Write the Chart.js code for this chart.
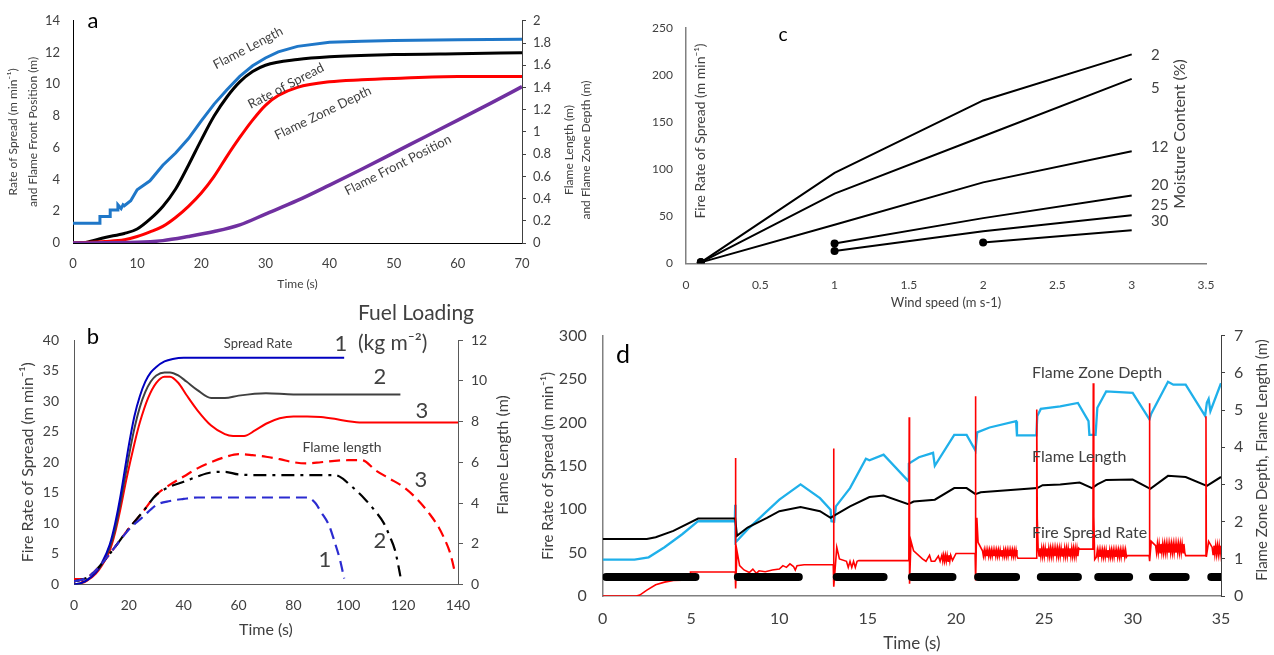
<!DOCTYPE html>
<html><head><meta charset="utf-8">
<script src="https://cdn.jsdelivr.net/npm/chart.js@4.4.1/dist/chart.umd.min.js"></script>
<style>
html,body{margin:0;padding:0;background:#fff;width:1274px;height:655px;overflow:hidden;position:relative}
canvas{position:absolute}
</style></head><body>
<canvas id="ca" width="600" height="300" style="left:0;top:0"></canvas>
<canvas id="cb" width="530" height="355" style="left:0;top:300px"></canvas>
<canvas id="cc" width="674" height="320" style="left:600px;top:0"></canvas>
<canvas id="cd" width="744" height="345" style="left:530px;top:310px"></canvas>
<script>
// ---------- Panel a: [time s, value] ----------
const aFlameLength = [[0,0.177],[4.2,0.177],[4.2,0.239],[5.8,0.239],[5.8,0.297],[7,0.297],[7,0.344],[7.5,0.31],[7.8,0.344],[8,0.335],[9,0.38],[10,0.48],[12,0.56],[14,0.70],[16,0.81],[18,0.94],[20,1.10],[22,1.25],[24,1.38],[26,1.50],[28,1.595],[30,1.665],[32,1.72],[35,1.77],[40,1.806],[45,1.817],[50,1.823],[60,1.829],[70,1.834]];
const aRateOfSpread = [[0,0],[2,0.04],[5,0.35],[8,0.6],[10,0.88],[12,1.5],[14,2.3],[16,3.4],[18,4.9],[20,6.5],[22,8.0],[24,9.2],[26,10.15],[28,10.8],[30,11.2],[35,11.56],[40,11.73],[50,11.87],[60,11.93],[70,11.98]];
const aFlameZoneDepth = [[0,0],[5,0.014],[8,0.029],[10,0.058],[12,0.1],[14,0.15],[16,0.23],[18,0.33],[20,0.45],[22,0.6],[24,0.78],[26,0.95],[28,1.106],[30,1.239],[32,1.327],[35,1.401],[40,1.451],[45,1.469],[50,1.481],[60,1.499],[70,1.499]];
const aFlameFrontPosition = [[0,0],[10,0.04],[14,0.15],[18,0.41],[22,0.72],[26,1.14],[30,1.82],[35,2.68],[40,3.65],[45,4.65],[50,5.68],[55,6.71],[60,7.74],[65,8.78],[70,9.85]];
const aXTicks = {min:0,max:70,step:10}, aYTicks = {min:0,max:14,step:2}, aY2Ticks = {min:0,max:2,step:0.2};

// ---------- Panel b ----------
const bSpread1 = [[0,0],[3,0.3],[5,0.8],[8,2],[10,3.4],[13,6.5],[15,10],[17,14.6],[20,22.8],[22,27.5],[24,30.8],[26,33.2],[28,34.7],[30,35.6],[33,36.5],[36,36.9],[40,37.1],[60,37.1],[80,37.1],[98.5,37.1]];
const bSpread2 = [[0,0],[3,0.3],[5,0.8],[8,2],[10,3.2],[13,6],[15,9],[17,13.5],[20,21],[22,25.5],[24,29],[26,31.5],[28,33.2],[30,34.2],[33,34.7],[35,34.7],[38,34.2],[41,33.2],[45,31.8],[50,30.5],[55,30.5],[60,30.9],[70,31.3],[80,31.1],[90,31.1],[100,31.1],[110,31.1],[119,31.1]];
const bSpread3 = [[0,0.9],[3,0.9],[3,0.3],[5,0.7],[8,1.8],[10,3],[13,5.5],[15,8.5],[17,12.5],[19,17],[22,23],[24,26.5],[27,30.5],[30,33],[33,34],[35,34],[38,33],[41,31],[45,28.5],[50,26],[55,24.6],[58,24.3],[62,24.3],[66,25.2],[70,26.3],[75,27.2],[80,27.5],[85,27.5],[90,27.4],[95,27.1],[100,26.7],[105,26.5],[120,26.5],[140,26.5]];
const bFlame1 = [[0,0.15],[5,0.35],[10,1.0],[15,1.85],[20,2.7],[25,3.3],[30,3.9],[35,4.1],[40,4.2],[45,4.27],[60,4.27],[70,4.27],[85,4.27],[88,4.0],[90,3.57],[93,2.9],[95,2.1],[97,1.2],[98,0.6],[98.5,0.3]];
const bFlame2 = [[0,0.15],[5,0.35],[10,1.0],[15,1.85],[20,2.75],[25,3.55],[30,4.4],[35,4.8],[40,5.04],[45,5.3],[50,5.5],[55,5.53],[60,5.4],[70,5.37],[80,5.37],[90,5.37],[95,5.37],[98,5.2],[100,4.96],[103,4.6],[106,4.2],[110,3.57],[113,3.0],[115,2.4],[117,1.7],[118,1.1],[119,0.4]];
const bFlame3 = [[0,0.15],[5,0.35],[10,1.0],[15,1.85],[20,2.75],[25,3.55],[30,4.4],[35,4.9],[40,5.3],[45,5.7],[50,6.0],[55,6.25],[60,6.4],[65,6.35],[70,6.27],[75,6.15],[80,6.0],[85,5.94],[90,6.0],[95,6.07],[100,6.1],[105,6.1],[110,5.6],[115,5.2],[120,4.8],[125,4.2],[130,3.4],[133,2.8],[135,2.26],[137,1.6],[138,1.1],[139,0.5]];
const bXTicks = {min:0,max:140,step:20}, bYTicks = {min:0,max:40,step:5}, bY2Ticks = {min:0,max:12,step:2};

// ---------- Panel c ----------
const cWind = [0.1,1,2,3];
const cMC2 = [1,96,173,222];
const cMC5 = [1,74,135,196];
const cMC12 = [1,41,86,119];
const cWind20 = [1,2,3], cMC20 = [21,48,72];
const cWind25 = [1,2,3], cMC25 = [13,34,51];
const cWind30 = [2,3], cMC30 = [22,35];
const cMoistureLabels = ['2','5','12','20','25','30'];
const cXTicks = {min:0,max:3.5,step:0.5}, cYTicks = {min:0,max:250,step:50};

// ---------- Panel d ----------
const dFlameZoneDepth = [[0,0.98],[1.8,0.98],[2.6,1.04],[3.5,1.31],[4.5,1.66],[5.4,2.01],[7.48,2.01],[7.5,2.45],[7.52,1.44],[8.2,1.79],[9.3,2.28],[10,2.59],[11.2,3.0],[12.3,2.63],[12.9,2.32],[12.95,2.01],[13.1,2.0],[13.2,2.41],[14,2.9],[14.9,3.69],[15.1,3.65],[15.9,3.8],[17.3,3.09],[17.33,3.56],[17.9,3.73],[18.7,3.85],[18.8,3.5],[19.9,4.33],[20.6,4.33],[21.1,3.91],[21.2,4.4],[21.9,4.53],[23.4,4.7],[23.45,4.32],[24.55,4.32],[24.6,4.84],[24.8,5.03],[25.9,5.1],[26.9,5.19],[27.5,4.7],[27.55,4.33],[27.9,4.33],[28,5.06],[28.5,5.5],[30,5.46],[30.95,4.75],[31.05,4.9],[32,5.76],[32.3,5.68],[33,5.68],[34.1,4.84],[34.2,5.2],[34.3,5.3],[34.4,4.97],[35,5.72]];
const dFlameLength = [[0,1.53],[2.5,1.53],[3,1.58],[4,1.75],[5.4,2.08],[7.5,2.08],[7.6,1.62],[8.2,1.84],[9.3,2.1],[10,2.28],[11.2,2.39],[12.3,2.28],[12.9,2.1],[13.1,2.16],[14,2.41],[15.1,2.66],[15.9,2.7],[17.3,2.47],[17.6,2.54],[18.8,2.59],[19.9,2.9],[20.6,2.9],[21.1,2.74],[21.4,2.79],[24.6,2.9],[24.9,2.98],[25.9,3.0],[27,3.05],[27.7,2.9],[28,3.0],[28.5,3.12],[30,3.13],[31,2.88],[32,3.23],[33,3.2],[34.2,2.96],[35,3.2]];
// Fire spread rate: measured pieces [time, value] and dense oscillating bands (values every 0.05 s from start)
const dRate1 = [[0,0],[1.9,0],[2.1,1],[2.5,6.8],[3,13],[3.5,16],[4,18],[4.97,18.5],[4.97,27.6],[7.5,27.6],[7.52,159],[7.53,8.7],[7.6,52],[7.75,35],[8,30],[8.3,27],[8.5,31],[8.7,26],[8.85,29],[9.2,28],[9.6,30],[10,31],[10.2,35],[10.4,33],[10.6,37],[10.8,34],[10.9,30],[11,35],[11.4,36],[13.05,36],[13.07,170],[13.09,10.6],[13.25,56],[13.4,42.7],[13.8,40],[13.9,33],[14,40],[14.1,33],[14.2,40],[14.3,33],[14.4,40],[14.5,40.8],[17.33,40.8],[17.35,206],[17.37,14],[17.45,63.5],[17.6,52],[18.1,42.7],[18.3,40],[18.5,47],[18.6,40],[18.8,40],[19,46],[19.1,40],[19.2,47],[19.25,40],[19.3,47],[19.35,40],[19.4,47],[19.45,40],[19.5,47],[19.55,40],[19.6,47],[19.65,40],[19.7,47],[19.8,41],[20,49],[21.08,49],[21.1,230],[21.12,18],[21.18,90],[21.25,61.7],[21.5,52]];
const dBand1 = {start:21.55, v:[46,53,46,53,46,53,46,53,46,53,46,53,46,53,46,53,46,53,46,53,46,53,46,53,46,53,46,53,46,53,46,53,46,53,46,53,46,53,46]};
const dRate2 = [[23.5,43.5],[24.55,43.5],[24.57,215],[24.6,90],[24.65,54]];
const dBand2 = {start:24.7, v:[46,55,46,55,46,55,46,55,46,55,46,55,46,55,46,55,46,55,46,55,46,55,46,55,46,55,46,55,46,55,46,55,46,55,46,55,46,55,46,55,46,55,46,55,46,55]};
const dRate3 = [[27,54],[27.75,54],[27.77,245],[27.8,92],[27.85,42]];
const dBand3 = {start:27.95, v:[45,53,45,53,45,53,45,53,45,53,45,53,45,53,45,53,45,53,45,53,45,53,45,53,45,53,45,53,45,53,45,53,45,53,45]};
const dRate4 = [[29.7,46.5],[30.93,46.5],[30.95,222],[30.97,40],[31.05,63],[31.3,58]];
const dBand4 = {start:31.35, v:[50,60,50,60,50,60,50,60,50,60,50,60,50,60,50,60,50,60,50,60,50,60,50,60,50,60,50,60,50,60,50,60,50]};
const dRate5 = [[33,46.5],[34.13,46.5],[34.15,207],[34.17,45],[34.3,63],[34.5,56]];
const dBand5 = {start:34.55, v:[48,58,48,58,48,58,48,58,48,58]};
const dBandStep = 0.05;
const dFrontSegStart = [0.2,7.65,13.25,17.5,21.25,24.8,28.05,31.15,34.45];
const dFrontSegEnd   = [5.25,11.1,15.9,19.8,23.4,26.9,29.8,33.0,35];
const dFrontLevel = 22;
const dXTicks = {min:0,max:35,step:5}, dYTicks = {min:0,max:300,step:50}, dY2Ticks = {min:0,max:7,step:1};

// ---------- helpers ----------
const FONT = "Lato, 'DejaVu Sans', sans-serif";
const pairs = arr => arr.map(p => ({x:p[0], y:p[1]}));
const xy = (xs, ys) => xs.map((x,i) => ({x, y:ys[i]}));
const band = b => b.v.map((v,i) => ({x:+(b.start + i*dBandStep).toFixed(3), y:v}));
const fmt = v => String(Math.round(v*100)/100);
const labels = items => ({
  id:'freeLabels',
  afterDraw(chart){
    const ctx = chart.ctx;
    items.forEach(it => {
      ctx.save();
      ctx.translate(it.x, it.y);
      if (it.rot) ctx.rotate(it.rot*Math.PI/180);
      ctx.font = (it.weight||'normal')+' '+it.size+'px '+FONT;
      ctx.fillStyle = it.color || '#404040';
      ctx.textAlign = it.align || 'center';
      ctx.textBaseline = 'middle';
      ctx.fillText(it.text, 0, 0);
      ctx.restore();
    });
  }
});
const base = pad => ({
  responsive:false, animation:false, maintainAspectRatio:false,
  layout:{autoPadding:false, padding:pad},
  plugins:{legend:{display:false}, tooltip:{enabled:false}},
  elements:{point:{radius:0}, line:{tension:0}}
});
function axis(o){
  return {
    type:'linear', position:o.pos, min:o.t.min, max:o.t.max,
    ticks:{stepSize:o.t.step, color:o.tc||'#404040', padding:o.tp, font:{family:FONT,size:o.ts}, callback:fmt},
    grid:{display:true, drawOnChartArea:false, drawTicks:!!o.tl, tickLength:o.tl||0, color:o.bc},
    border:{display:true, color:o.bc, width:o.bw||1},
    title: o.title ? {display:true, text:o.title, color:o.tcol||'#404040', font:{family:FONT,size:o.tsz,lineHeight:o.lh||1.2}, padding:o.tpad} : {display:false},
    afterFit: s => { if (o.w!==undefined) s.width=o.w; if (o.h!==undefined) s.height=o.h; }
  };
}

// ---------- Panel a ----------
new Chart(document.getElementById('ca'), {
  type:'line',
  data:{datasets:[
    {data:pairs(aFlameFrontPosition), yAxisID:'y', borderColor:'#7030A0', borderWidth:3.5, cubicInterpolationMode:'monotone'},
    {data:pairs(aFlameZoneDepth), yAxisID:'y2', borderColor:'#FF0000', borderWidth:3, cubicInterpolationMode:'monotone'},
    {data:pairs(aRateOfSpread), yAxisID:'y', borderColor:'#000000', borderWidth:3, cubicInterpolationMode:'monotone'},
    {data:pairs(aFlameLength), yAxisID:'y2', borderColor:'#1F77C8', borderWidth:3}
  ]},
  options:Object.assign(base({top:17,left:0,right:0,bottom:0}), {scales:{
    x:axis({pos:'bottom', t:aXTicks, ts:13, tp:13, bc:'#000', title:'Time (s)', tsz:12, tpad:{top:0,bottom:9}, h:57}),
    y:axis({pos:'left', t:aYTicks, ts:13, tp:13, bc:'#000', title:['Rate of Spread (m min⁻¹)','and Flame Front Position (m)'], tsz:12, lh:1.667, tpad:{top:3,bottom:0}, w:73}),
    y2:axis({pos:'right', t:aY2Ticks, ts:13, tp:7, tl:4, bc:'#404040', w:78})
  }}),
  plugins:[labels([
    {text:'a', x:93, y:21, size:22, color:'#000'},
    {text:'Flame Length', x:248, y:48, rot:-27.5, size:13},
    {text:'Rate of Spread', x:286, y:86, rot:-27.5, size:13},
    {text:'Flame Zone Depth', x:323, y:113, rot:-26, size:13},
    {text:'Flame Front Position', x:398, y:165, rot:-27, size:13},
    {text:'Flame Length (m)', x:569, y:150, rot:-90, size:12},
    {text:'and Flame Zone Depth (m)', x:586, y:150, rot:-90, size:12}
  ])]
});

// ---------- Panel b ----------
new Chart(document.getElementById('cb'), {
  type:'line',
  data:{datasets:[
    {data:pairs(bFlame1), yAxisID:'y2', borderColor:'#2B2BD0', borderWidth:2.2, borderDash:[11,6], cubicInterpolationMode:'monotone'},
    {data:pairs(bFlame2), yAxisID:'y2', borderColor:'#000000', borderWidth:2.2, borderDash:[13,6,3,6], cubicInterpolationMode:'monotone'},
    {data:pairs(bFlame3), yAxisID:'y2', borderColor:'#FF0000', borderWidth:2.2, borderDash:[11,6], cubicInterpolationMode:'monotone'},
    {data:pairs(bSpread1), yAxisID:'y', borderColor:'#0000C0', borderWidth:2, cubicInterpolationMode:'monotone'},
    {data:pairs(bSpread2), yAxisID:'y', borderColor:'#404040', borderWidth:2, cubicInterpolationMode:'monotone'},
    {data:pairs(bSpread3), yAxisID:'y', borderColor:'#FF0000', borderWidth:2, cubicInterpolationMode:'monotone'}
  ]},
  options:Object.assign(base({top:40,left:0,right:0,bottom:0}), {scales:{
    x:axis({pos:'bottom', t:bXTicks, ts:14, tp:13, bc:'#595959', title:'Time (s)', tsz:16, tpad:{top:0,bottom:16}, h:70.5}),
    y:axis({pos:'left', t:bYTicks, ts:14, tp:15, bc:'#595959', title:'Fire Rate of Spread (m min⁻¹)', tsz:16, tpad:{top:18.7,bottom:0}, w:74}),
    y2:axis({pos:'right', t:bY2Ticks, ts:14, tp:8, tl:5, bc:'#595959', w:72})
  }}),
  plugins:[labels([
    {text:'b', x:93, y:37, size:22, color:'#000'},
    {text:'Fuel Loading', x:358, y:13, size:21, align:'left', color:'#404040'},
    {text:'(kg m⁻²)', x:358, y:43, size:21, align:'left', color:'#404040'},
    {text:'Spread Rate', x:258, y:44, size:13},
    {text:'1', x:341, y:44, size:22},
    {text:'2', x:380, y:77, size:22},
    {text:'3', x:422, y:111, size:22},
    {text:'Flame length', x:342, y:147, size:14},
    {text:'3', x:421, y:180, size:22},
    {text:'2', x:380, y:241, size:22},
    {text:'1', x:325, y:260, size:22},
    {text:'Flame Length (m)', x:503, y:155, rot:-90, size:16}
  ])]
});

// ---------- Panel c ----------
const cPointR = ctx => ctx.dataIndex===0 ? 4 : 0;
new Chart(document.getElementById('cc'), {
  type:'line',
  data:{datasets:[
    {data:xy(cWind,cMC2)}, {data:xy(cWind,cMC5)}, {data:xy(cWind,cMC12)},
    {data:xy(cWind20,cMC20)}, {data:xy(cWind25,cMC25)}, {data:xy(cWind30,cMC30)}
  ].map(d => Object.assign(d, {borderColor:'#000', borderWidth:2, pointRadius:cPointR, pointBackgroundColor:'#000', pointBorderWidth:0}))},
  options:Object.assign(base({top:28,left:0,right:68,bottom:0}), {scales:{
    x:axis({pos:'bottom', t:cXTicks, ts:12, tp:15, bc:'#808080', bw:1.5, title:'Wind speed (m s-1)', tsz:13, tpad:{top:0,bottom:9}, h:56.7}),
    y:axis({pos:'left', t:cYTicks, ts:12, tp:13, bc:'#808080', bw:1.5, w:86})
  }}),
  plugins:[labels([
    {text:'c', x:183, y:35, size:19, color:'#000'},
    {text:'Fire Rate of Spread (m min⁻¹)', x:100, y:131, rot:-90, size:14},
    {text:'Moisture Content (%)', x:580, y:134, rot:-90, size:16},
    {text:cMoistureLabels[0], x:551, y:55, size:15, align:'left'},
    {text:cMoistureLabels[1], x:551, y:88, size:15, align:'left'},
    {text:cMoistureLabels[2], x:551, y:147, size:15, align:'left'},
    {text:cMoistureLabels[3], x:551, y:185, size:15, align:'left'},
    {text:cMoistureLabels[4], x:551, y:205, size:15, align:'left'},
    {text:cMoistureLabels[5], x:551, y:221, size:15, align:'left'}
  ])]
});

// ---------- Panel d ----------
const dFront = [];
dFrontSegStart.forEach((s,i) => { dFront.push({x:s,y:dFrontLevel},{x:dFrontSegEnd[i],y:dFrontLevel},{x:dFrontSegEnd[i]+0.01,y:null}); });
const dRate = [].concat(pairs(dRate1), band(dBand1), pairs(dRate2), band(dBand2), pairs(dRate3), band(dBand3), pairs(dRate4), band(dBand4), pairs(dRate5), band(dBand5));
new Chart(document.getElementById('cd'), {
  type:'line',
  data:{datasets:[
    {data:dFront, yAxisID:'y', borderColor:'#000', borderWidth:8, borderCapStyle:'round', spanGaps:false},
    {data:dRate, yAxisID:'y', borderColor:'#FF0000', borderWidth:1.6},
    {data:pairs(dFlameLength), yAxisID:'y2', borderColor:'#000', borderWidth:2},
    {data:pairs(dFlameZoneDepth), yAxisID:'y2', borderColor:'#1FB0EA', borderWidth:2.3}
  ]},
  options:Object.assign(base({top:22,left:0,right:0,bottom:0}), {scales:{
    x:axis({pos:'bottom', t:dXTicks, ts:16, tp:13, bc:'#808080', bw:1.5, title:'Time (s)', tsz:17, tpad:{top:0,bottom:1.5}, h:59}),
    y:axis({pos:'left', t:dYTicks, ts:16, tp:16, bc:'#808080', bw:1.5, title:'Fire Rate of Spread (m min⁻¹)', tsz:15, tpad:{top:9,bottom:0}, w:72.7}),
    y2:axis({pos:'right', t:dY2Ticks, ts:16, tp:9, tl:4, bc:'#404040', w:53})
  }}),
  plugins:[labels([
    {text:'d', x:93, y:45, size:25, color:'#000'},
    {text:'Flame Zone Depth', x:502, y:63, size:16, align:'left'},
    {text:'Flame Length', x:502, y:147, size:16, align:'left'},
    {text:'Fire Spread Rate', x:502, y:223, size:16, align:'left'},
    {text:'Flame Zone Depth, Flame Length (m)', x:732, y:150, rot:-90, size:15}
  ])]
});
</script>
</body></html>
